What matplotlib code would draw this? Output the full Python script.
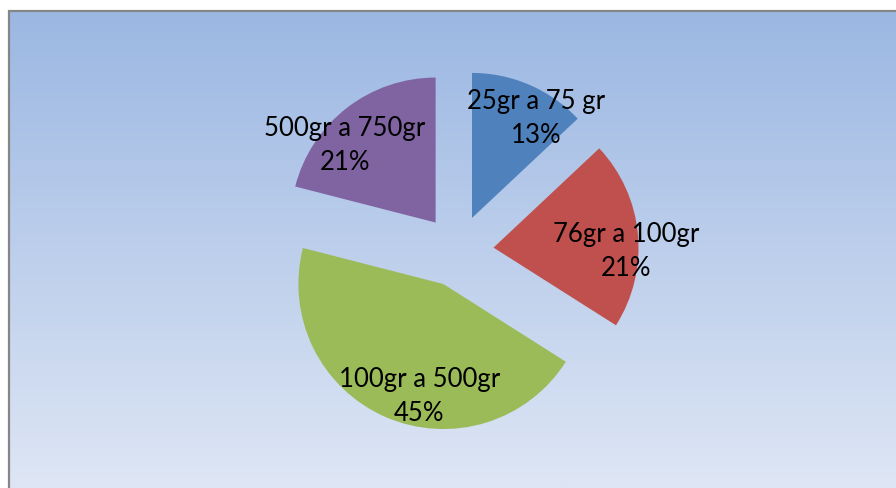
import numpy as np
import matplotlib
matplotlib.use("Agg")
import matplotlib.pyplot as plt

# Data
categories = ["25gr a 75 gr", "76gr a 100gr", "100gr a 500gr", "500gr a 750gr"]
values = [13, 21, 45, 21]
colors = ["#4F81BD", "#C0504D", "#9BBB59", "#8064A2"]

# label placement (relative to each wedge apex): radius fraction, angle (deg)
label_rfrac = [0.819, 0.914, 0.783, 0.827]
label_angle = [57.4, -1.3, 257.8, 139.4]

W, H = 896, 489
fig = plt.figure(figsize=(W / 100, H / 100), dpi=100)
ax = fig.add_axes([0, 0, 1, 1])
ax.set_xlim(0, W)
ax.set_ylim(0, H)
ax.set_aspect("equal")
ax.axis("off")

# gradient background of the chart area
left, top = 8.5, H - 11.5
top_c = np.array([155, 183, 226]) / 255
bot_c = np.array([222, 230, 245]) / 255
t = np.linspace(0, 1, 256)[:, None]
grad = top_c[None, :] * (1 - t) + bot_c[None, :] * t
grad = grad[:, None, :]
ax.imshow(grad, extent=[left, W, 0, top], aspect="auto", zorder=0, interpolation="bilinear")
ax.plot([left, left, W], [0, top, top], color="#868686", lw=1.6, zorder=1,
        solid_capstyle="butt", solid_joinstyle="miter")

R = 145
center = (457.7, H - 252)
expl = 36
wedges, _ = ax.pie(values, colors=colors, startangle=90, counterclock=False,
                   radius=R, center=center, explode=[expl] * len(values),
                   wedgeprops=dict(linewidth=0), frame=True)
ax.set_xlim(0, W)
ax.set_ylim(0, H)
ax.axis("off")

for w, cat, v, rf, ang in zip(wedges, categories, values, label_rfrac, label_angle):
    cx, cy = w.center
    a = np.deg2rad(ang)
    x = cx + rf * R * np.cos(a)
    y = cy + rf * R * np.sin(a)
    ax.text(x, y, f"{cat}\n{v}%", ha="center", va="center", fontsize=18.5,
            family="Lato", color="black", linespacing=1.45, zorder=5)

fig.savefig("out.png", dpi=100)
